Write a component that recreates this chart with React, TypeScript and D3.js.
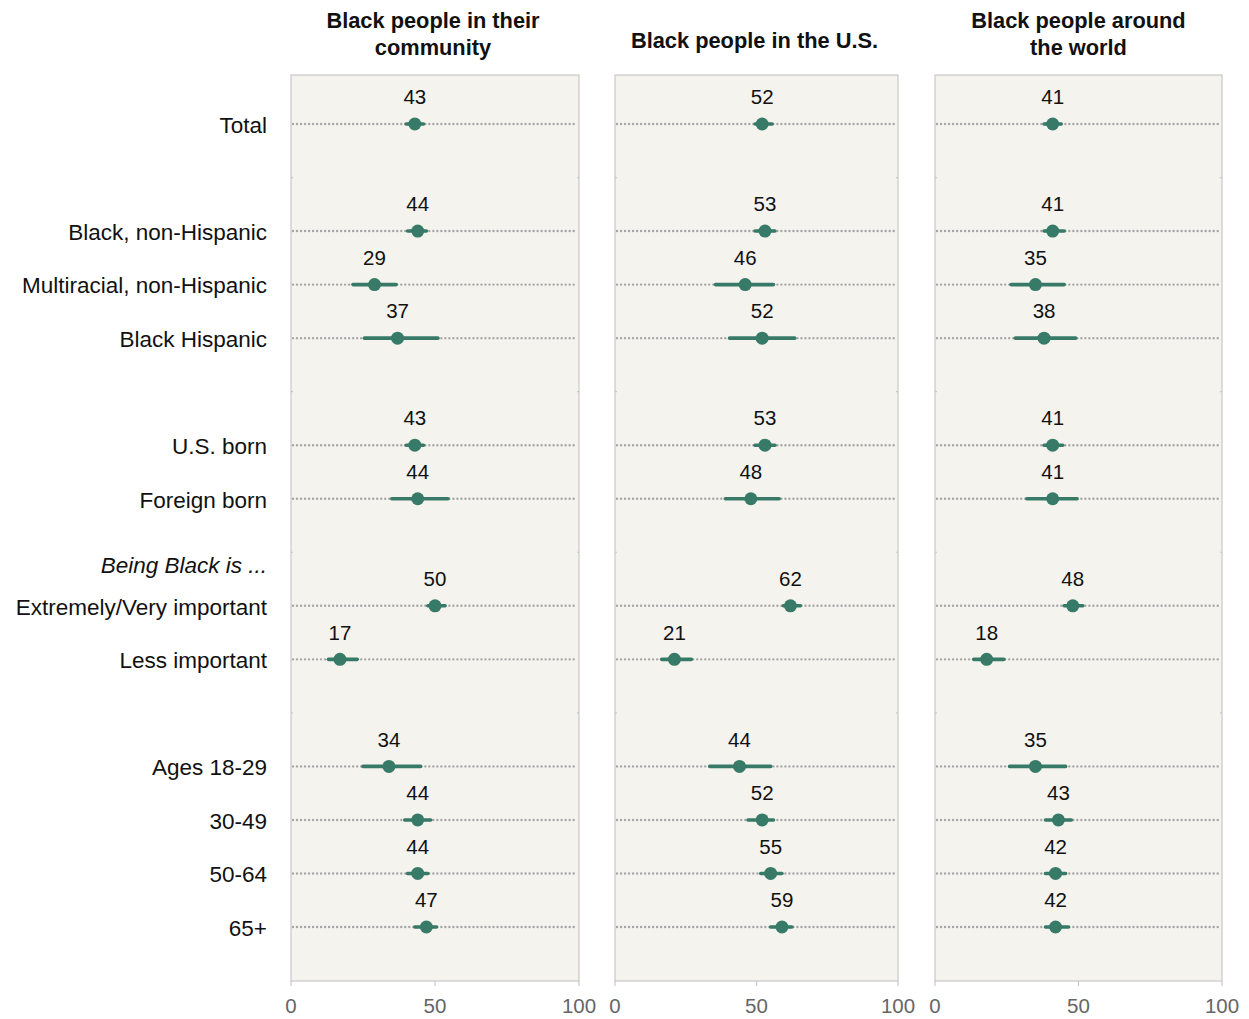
import React from "react";
import * as d3 from "d3";

const rowLabels = [
  "Total", "", "Black, non-Hispanic", "Multiracial, non-Hispanic", "Black Hispanic", "",
  "U.S. born", "Foreign born", "Being Black is ...", "Extremely/Very important", "Less important", "",
  "Ages 18-29", "30-49", "50-64", "65+",
];
const headerRows = ["Being Black is ..."];

const panelTitles = [
  ["Black people in their", "community"],
  ["Black people in the U.S."],
  ["Black people around", "the world"],
];

// values per panel, aligned with rowLabels (null = no mark)
const communityValues = [43, null, 44, 29, 37, null, 43, 44, null, 50, 17, null, 34, 44, 44, 47];
const communityLow =    [40, null, 40.5, 21.5, 25.5, null, 40, 35, null, 47.5, 13, null, 25, 39.5, 40.5, 43];
const communityHigh =   [46, null, 47, 36.5, 51, null, 46, 54.5, null, 53.5, 23, null, 45, 48.5, 47.5, 50.5];

const usValues = [52, null, 53, 46, 52, null, 53, 48, null, 62, 21, null, 44, 52, 55, 59];
const usLow =    [49.5, null, 49.5, 35.5, 40.5, null, 49.5, 39, null, 59.5, 16.5, null, 33.5, 47, 51.5, 55];
const usHigh =   [55.5, null, 56.5, 56, 63.5, null, 56.5, 58, null, 65.5, 27, null, 55, 56, 59, 62.5];

const worldValues = [41, null, 41, 35, 38, null, 41, 41, null, 48, 18, null, 35, 43, 42, 42];
const worldLow =    [38, null, 38, 26.5, 28, null, 38, 32, null, 45, 13.5, null, 26, 38.5, 38.5, 38.5];
const worldHigh =   [44, null, 45, 45, 49, null, 44.5, 49.5, null, 51.5, 24, null, 45.5, 47.5, 45.5, 46.5];

const xTicks = [0, 50, 100];

const panels = [
  { values: communityValues, low: communityLow, high: communityHigh, x0: 291, x1: 579 },
  { values: usValues, low: usLow, high: usHigh, x0: 615, x1: 898 },
  { values: worldValues, low: worldLow, high: worldHigh, x0: 935, x1: 1222 },
];

const FONT = "'Liberation Sans', Arial, sans-serif";
const GREEN = "#377a67";

export default function App() {
  const width = 1249;
  const height = 1019;
  const top = 75;
  const bottom = 981;
  const y = d3.scalePoint<number>().domain(d3.range(rowLabels.length)).range([124, 927]);

  return (
    <svg width={width} height={height} style={{ position: "absolute", left: 0, top: 0, background: "#fff" }}>
      {rowLabels.map((lab, i) => {
        if (!lab) return null;
        const isHeader = headerRows.includes(lab);
        return (
          <text
            key={"rl" + i}
            x={267}
            y={(y(i) as number) + (isHeader ? 13 : 1)}
            dy="0.35em"
            textAnchor="end"
            fontFamily={FONT}
            fontSize={22.5}
            fontStyle={isHeader ? "italic" : "normal"}
            fill="#111"
          >
            {lab}
          </text>
        );
      })}
      {panels.map((p, pi) => {
        const x = d3.scaleLinear().domain([0, 100]).range([p.x0, p.x1]);
        const cx = (p.x0 + p.x1) / 2;
        const titles = panelTitles[pi];
        const titleY = titles.length === 1 ? [40] : [20, 47];
        return (
          <g key={"p" + pi}>
            {titles.map((t, ti) => (
              <text key={ti} x={cx + (pi === 2 ? 0 : -2)} y={titleY[ti]} dy="0.35em" textAnchor="middle"
                fontFamily={FONT} fontWeight="bold" fontSize={21.8} fill="#111">{t}</text>
            ))}
            <rect x={p.x0} y={top} width={p.x1 - p.x0} height={bottom - top} fill="#f4f3ee" stroke="#c8c8c8" strokeWidth={1.2} />
            {rowLabels.map((lab, i) => (!lab || headerRows.includes(lab)) ? (
              <g key={"st" + i}>
                <line x1={p.x0} x2={p.x0 + 2} y1={y(i)} y2={y(i)} stroke="#c8c8c8" strokeWidth={1.2} />
                <line x1={p.x1} x2={p.x1 - 2} y1={y(i)} y2={y(i)} stroke="#c8c8c8" strokeWidth={1.2} />
              </g>
            ) : null)}
            {xTicks.map((t) => (
              <g key={"xt" + t}>
                <line x1={x(t)} x2={x(t)} y1={bottom} y2={bottom + 5} stroke="#c8c8c8" strokeWidth={1.2} />
                <text x={x(t)} y={1006} dy="0.35em" textAnchor="middle" fontFamily={FONT} fontSize={20.5} fill="#666">{t}</text>
              </g>
            ))}
            {p.values.map((v, i) => {
              if (v === null) return null;
              const yy = y(i) as number;
              return (
                <g key={"m" + i}>
                  <line x1={p.x0 + 2} x2={p.x1 - 2} y1={yy} y2={yy} stroke="#a6a6a6" strokeWidth={2.4}
                    strokeDasharray="0.01 4" strokeLinecap="round" />
                  <line x1={x(p.low[i] as number)} x2={x(p.high[i] as number)} y1={yy} y2={yy}
                    stroke={GREEN} strokeWidth={3.6} strokeLinecap="round" />
                  <circle cx={x(v)} cy={yy} r={6.5} fill={GREEN} />
                  <text x={x(v)} y={yy - 27} dy="0.35em" textAnchor="middle" fontFamily={FONT} fontSize={20.5} fill="#111">{v}</text>
                </g>
              );
            })}
          </g>
        );
      })}
    </svg>
  );
}
